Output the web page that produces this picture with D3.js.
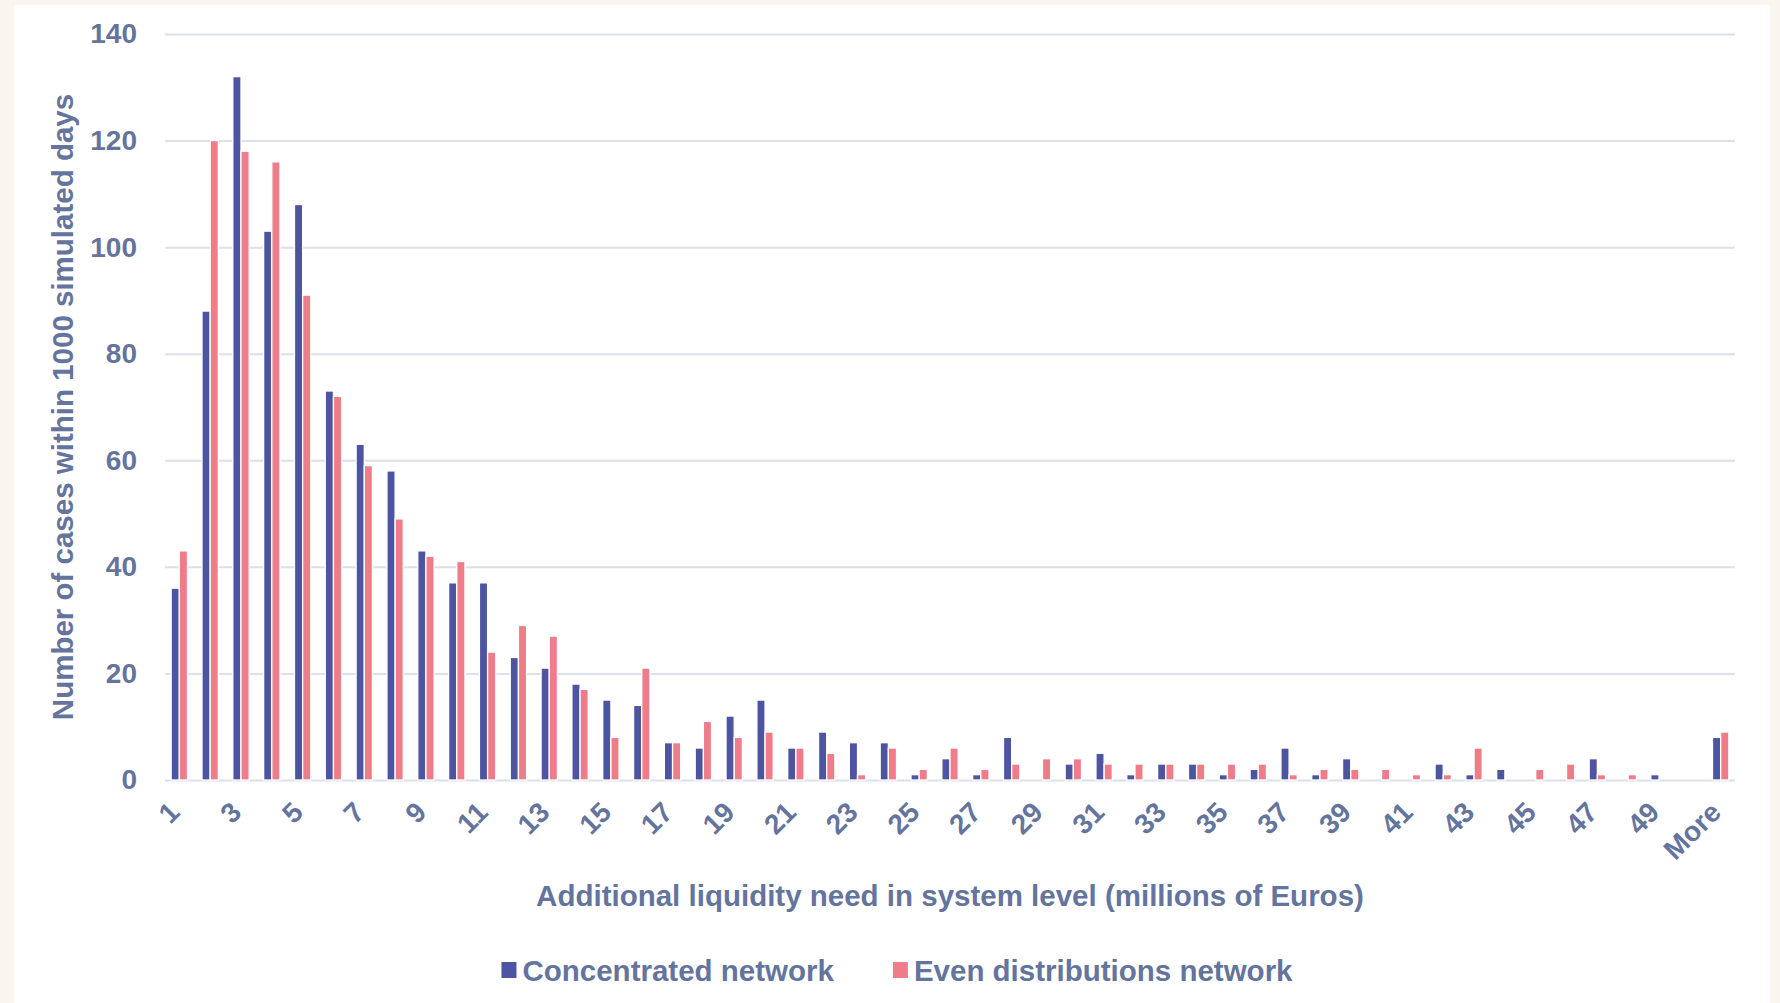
<!DOCTYPE html>
<html>
<head>
<meta charset="utf-8">
<script src="https://cdn.jsdelivr.net/npm/d3@7"></script>
<style>
  html, body { margin: 0; padding: 0; background: #faf6ef; }
  #chart { position: absolute; left: 14px; top: 5px; }
  text { font-family: "Liberation Sans", Arial, sans-serif; font-weight: bold; fill: #64749d; }
</style>
</head>
<body>
<div id="chart"></div>
<script>
// 1. Data
const categories = ["1","2","3","4","5","6","7","8","9","10",
  "11","12","13","14","15","16","17","18","19","20",
  "21","22","23","24","25","26","27","28","29","30",
  "31","32","33","34","35","36","37","38","39","40",
  "41","42","43","44","45","46","47","48","49","50","More"]

const concentrated = [36, 88, 132, 103, 108, 73, 63, 58, 43, 37,
  37, 23, 21, 18, 15, 14, 7, 6, 12, 15,
  6, 9, 7, 7, 1, 4, 1, 8, 0, 3,
  5, 1, 3, 3, 1, 2, 6, 1, 4, 0,
  0, 3, 1, 2, 0, 0, 4, 0, 1, 0, 8]

const even = [43, 120, 118, 116, 91, 72, 59, 49, 42, 41,
  24, 29, 27, 17, 8, 21, 7, 11, 8, 9,
  6, 5, 1, 6, 2, 6, 2, 3, 4, 4,
  3, 3, 3, 3, 3, 3, 1, 2, 2, 2,
  1, 1, 6, 0, 2, 3, 1, 1, 0, 0, 9]

const seriesNames = ["Concentrated network", "Even distributions network"]
const seriesColors = ["#4e55a0", "#ef7d89"]
const yTicks = [0, 20, 40, 60, 80, 100, 120, 140]

const dataset = categories.map((c, i) => ({
  category: c,
  values: [concentrated[i], even[i]],
}))

// 2. Dimensions
let dimensions = {
  width: 1756,
  height: 998,
  margin: { top: 29, right: 35, bottom: 223, left: 151 },
}
dimensions.boundedWidth = dimensions.width - dimensions.margin.left - dimensions.margin.right
dimensions.boundedHeight = dimensions.height - dimensions.margin.top - dimensions.margin.bottom

// 3. Canvas
const wrapper = d3.select("#chart")
  .append("svg")
    .attr("width", dimensions.width)
    .attr("height", dimensions.height)
    .style("background", "#ffffff")

const bounds = wrapper.append("g")
    .attr("transform", `translate(${dimensions.margin.left}, ${dimensions.margin.top})`)

// 4. Scales
const xScale = d3.scaleBand()
  .domain(categories)
  .range([0, dimensions.boundedWidth])
  .paddingInner(0.47)
  .paddingOuter(0.2)

const xSub = d3.scaleBand()
  .domain([0, 1])
  .range([0, xScale.bandwidth()])

const yScale = d3.scaleLinear()
  .domain([0, 140])
  .range([dimensions.boundedHeight, 0])

// 5. Gridlines + y labels
const yAxisGenerator = d3.axisLeft(yScale)
  .tickValues(yTicks)
  .tickSize(-dimensions.boundedWidth)
  .tickPadding(28)

const yAxis = bounds.append("g")
    .call(yAxisGenerator)
yAxis.select(".domain").remove()
yAxis.selectAll(".tick line")
    .attr("stroke", "#dde0ea")
    .attr("stroke-width", 2)
yAxis.selectAll(".tick text")
    .style("font-size", "28px")
    .attr("fill", "#64749d")

// 6. Bars
const groups = bounds.append("g")
  .selectAll("g")
  .data(dataset)
  .join("g")
    .attr("transform", d => `translate(${xScale(d.category)}, 0)`)

groups.selectAll("rect")
  .data(d => d.values.map((v, k) => ({ k, v })))
  .join("rect")
    .attr("x", d => xSub(d.k))
    .attr("width", xSub.bandwidth())
    .attr("y", d => yScale(d.v))
    .attr("height", d => yScale(0) - yScale(d.v))
    .attr("fill", d => seriesColors[d.k])
    .attr("stroke", "#ffffff")
    .attr("stroke-width", 1.3)

// 7. X axis labels (every other category)
bounds.append("g")
  .selectAll("text")
  .data(categories.filter((c, i) => i % 2 === 0))
  .join("text")
    .attr("transform", d => `translate(${xScale(d) + xScale.bandwidth() / 2 + 2}, ${dimensions.boundedHeight + 34}) rotate(-45)`)
    .attr("text-anchor", "end")
    .style("font-size", "28px")
    .text(d => d)

// Axis titles
bounds.append("text")
    .attr("x", dimensions.boundedWidth / 2)
    .attr("y", dimensions.boundedHeight + 126)
    .attr("text-anchor", "middle")
    .style("font-size", "29.5px")
    .text("Additional liquidity need in system level (millions of Euros)")

bounds.append("text")
    .attr("transform", `translate(${-dimensions.margin.left + 59}, ${dimensions.boundedHeight / 2}) rotate(-90)`)
    .attr("text-anchor", "middle")
    .style("font-size", "29.5px")
    .text("Number of cases within 1000 simulated days")

// 8. Legend
const legend = bounds.append("g")

let cursor = 0
seriesNames.forEach((name, i) => {
  const g = legend.append("g")
  g.append("rect")
      .attr("x", 0)
      .attr("y", -19)
      .attr("width", 15)
      .attr("height", 16)
      .attr("fill", seriesColors[i])
  const t = g.append("text")
      .attr("x", 21)
      .attr("y", 0)
      .style("font-size", "29.5px")
      .text(name)
  const w = 21 + t.node().getComputedTextLength()
  g.attr("transform", `translate(${cursor}, 0)`)
  cursor += w + 59
})
const legendWidth = cursor - 59
legend.attr("transform", `translate(${dimensions.boundedWidth / 2 - legendWidth / 2 - 53}, ${dimensions.boundedHeight + 201})`)
</script>
</body>
</html>
